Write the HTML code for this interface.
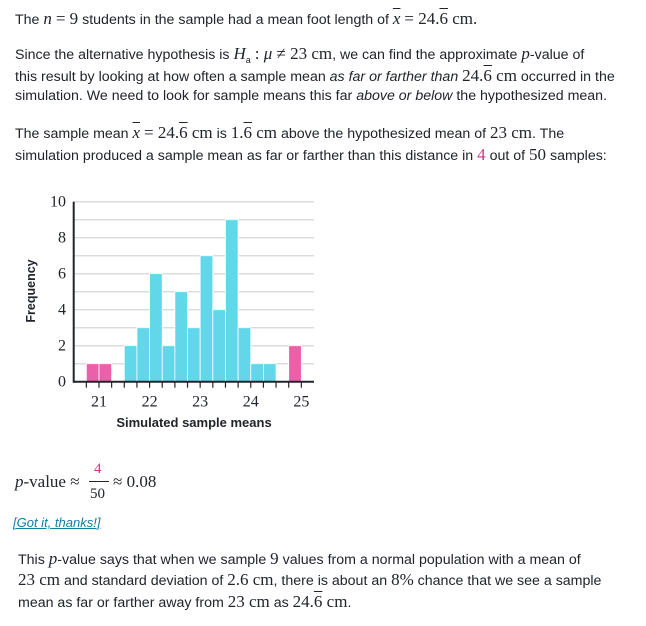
<!DOCTYPE html>
<html><head><meta charset="utf-8">
<style>
body{margin:0;width:646px;height:626px;background:#fff;overflow:hidden;font-family:"Liberation Sans",sans-serif;color:#21242c;}
.l{position:absolute;white-space:nowrap;font-size:14.2px;letter-spacing:0;line-height:18px;}
.m{font-family:"Liberation Serif",serif;font-size:17px;letter-spacing:0;}
.i{font-style:italic;}
.pk{color:#d6338a;}
.ob{text-decoration:overline;}
</style></head><body>
<div class="l" style="left:15px;top:10px">The <span class="m i">n</span> <span class="m">= 9</span> students in the sample had a mean foot length of <span class="m i ob">x</span> <span class="m">= 24.<span class="ob">6</span> cm.</span></div>
<div class="l" style="left:15px;top:45px">Since the alternative hypothesis is <span class="m i">H</span><sub style="font-size:9px">a</sub> <span class="m">: <i>μ</i> ≠ 23 cm</span>, we can find the approximate <span class="m i">p</span>-value of</div>
<div class="l" style="left:15px;top:67px">this result by looking at how often a sample mean <i>as far or farther than</i> <span class="m">24.<span class="ob">6</span> cm</span> occurred in the</div>
<div class="l" style="left:15px;top:87px">simulation. We need to look for sample means this far <i>above or below</i> the hypothesized mean.</div>
<div class="l" style="left:15px;top:124px">The sample mean <span class="m i ob">x</span> <span class="m">= 24.<span class="ob">6</span> cm</span> is <span class="m">1.<span class="ob">6</span> cm</span> above the hypothesized mean of <span class="m">23 cm</span>. The</div>
<div class="l" style="left:15px;top:146px">simulation produced a sample mean as far or farther than this distance in <span class="m pk">4</span> out of <span class="m">50</span> samples:</div>

<svg id="chart" style="position:absolute;left:0;top:0" width="646" height="626"></svg>

<div class="l" style="left:15px;top:473px;font-family:'Liberation Serif',serif;font-size:17px;letter-spacing:0"><i>p</i>-value ≈</div>
<div class="l" style="left:94px;top:460px;font-family:'Liberation Serif',serif;font-size:15px;color:#d6338a">4</div>
<div style="position:absolute;left:89px;top:481px;width:20px;height:1px;background:#21242c"></div>
<div class="l" style="left:90px;top:485px;font-family:'Liberation Serif',serif;font-size:15px;letter-spacing:0">50</div>
<div class="l" style="left:113px;top:473px;font-family:'Liberation Serif',serif;font-size:17px;letter-spacing:0">≈ 0.08</div>
<div class="l" style="left:13px;top:514px;font-size:13px;font-style:italic;color:#11809e;text-decoration:underline">[Got it, thanks!]</div>
<div class="l" style="left:18px;top:550px">This <span class="m i">p</span>-value says that when we sample <span class="m">9</span> values from a normal population with a mean of</div>
<div class="l" style="left:18px;top:571px"><span class="m">23 cm</span> and standard deviation of <span class="m">2.6 cm</span>, there is about an <span class="m">8%</span> chance that we see a sample</div>
<div class="l" style="left:18px;top:593px">mean as far or farther away from <span class="m">23 cm</span> as <span class="m">24.<span class="ob">6</span> cm</span>.</div>

<script>
const binStarts=[20.75,21,21.25,21.5,21.75,22,22.25,22.5,22.75,23,23.25,23.5,23.75,24,24.25,24.5,24.75];
const counts=[1,1,0,2,3,6,2,5,3,7,4,9,3,1,1,0,2];
const extreme=[true,true,false,false,false,false,false,false,false,false,false,false,false,false,false,false,true];
const xTicks=[21,22,23,24,25];
const yTicks=[0,2,4,6,8,10];
const binW=0.25;
const NS='http://www.w3.org/2000/svg';
const svg=document.getElementById('chart');
const X0=73.7,X1=314,XMIN=20.5,XMAX=25.25,Y0=381.7,Y1=201.7,YMAX=10;
const sx=v=>X0+(v-XMIN)/(XMAX-XMIN)*(X1-X0);
const sy=v=>Y0-v/YMAX*(Y0-Y1);
function mk(t,a){const e=document.createElementNS(NS,t);for(const k in a)e.setAttribute(k,a[k]);svg.appendChild(e);return e;}
for(let v=1;v<=YMAX;v++){
 const g=mk('line',{x1:X0,x2:X1,y1:sy(v),y2:sy(v),stroke:'#dcdcdc','stroke-width':1.5});
 
 
}
binStarts.forEach((b,i)=>{
 if(!counts[i])return;
 const r=mk('rect',{x:sx(b),y:sy(counts[i]),width:sx(b+binW)-sx(b),height:sy(0)-sy(counts[i]),fill:extreme[i]?'#ec5fa9':'#63d7ea',stroke:'#fff','stroke-width':0.8});
 
 
});
for(let v=20.75;v<=25.001;v+=binW){
 const t=mk('line',{x1:sx(v),x2:sx(v),y1:Y0,y2:Y0+6,stroke:'#21242c','stroke-width':1.2});
 
 
}
const ax=mk('line',{x1:X0,x2:X1,y1:Y0,y2:Y0,stroke:'#21242c','stroke-width':2});


const ay=mk('line',{x1:X0,x2:X0,y1:Y1,y2:Y0+1,stroke:'#21242c','stroke-width':2});


xTicks.forEach(v=>{
 const t=mk('text',{x:sx(v),y:Y0+25,'text-anchor':'middle','font-family':'Liberation Serif, serif','font-size':16,fill:'#21242c'});
 t.textContent=v;
 
 
});
yTicks.forEach(v=>{
 const t=mk('text',{x:66,y:sy(v)+5,'text-anchor':'end','font-family':'Liberation Serif, serif','font-size':16,fill:'#21242c'});
 t.textContent=v;
 
 
});
const xt=mk('text',{x:194,y:427,'text-anchor':'middle','font-family':'Liberation Sans, sans-serif','font-size':13,'font-weight':'bold',fill:'#21242c'});
xt.textContent='Simulated sample means';


const yt=mk('text',{x:0,y:0,'text-anchor':'middle','font-family':'Liberation Sans, sans-serif','font-size':12.5,'font-weight':'bold',fill:'#21242c',transform:'translate(35,291) rotate(-90)'});
yt.textContent='Frequency';


</script>
</body></html>
